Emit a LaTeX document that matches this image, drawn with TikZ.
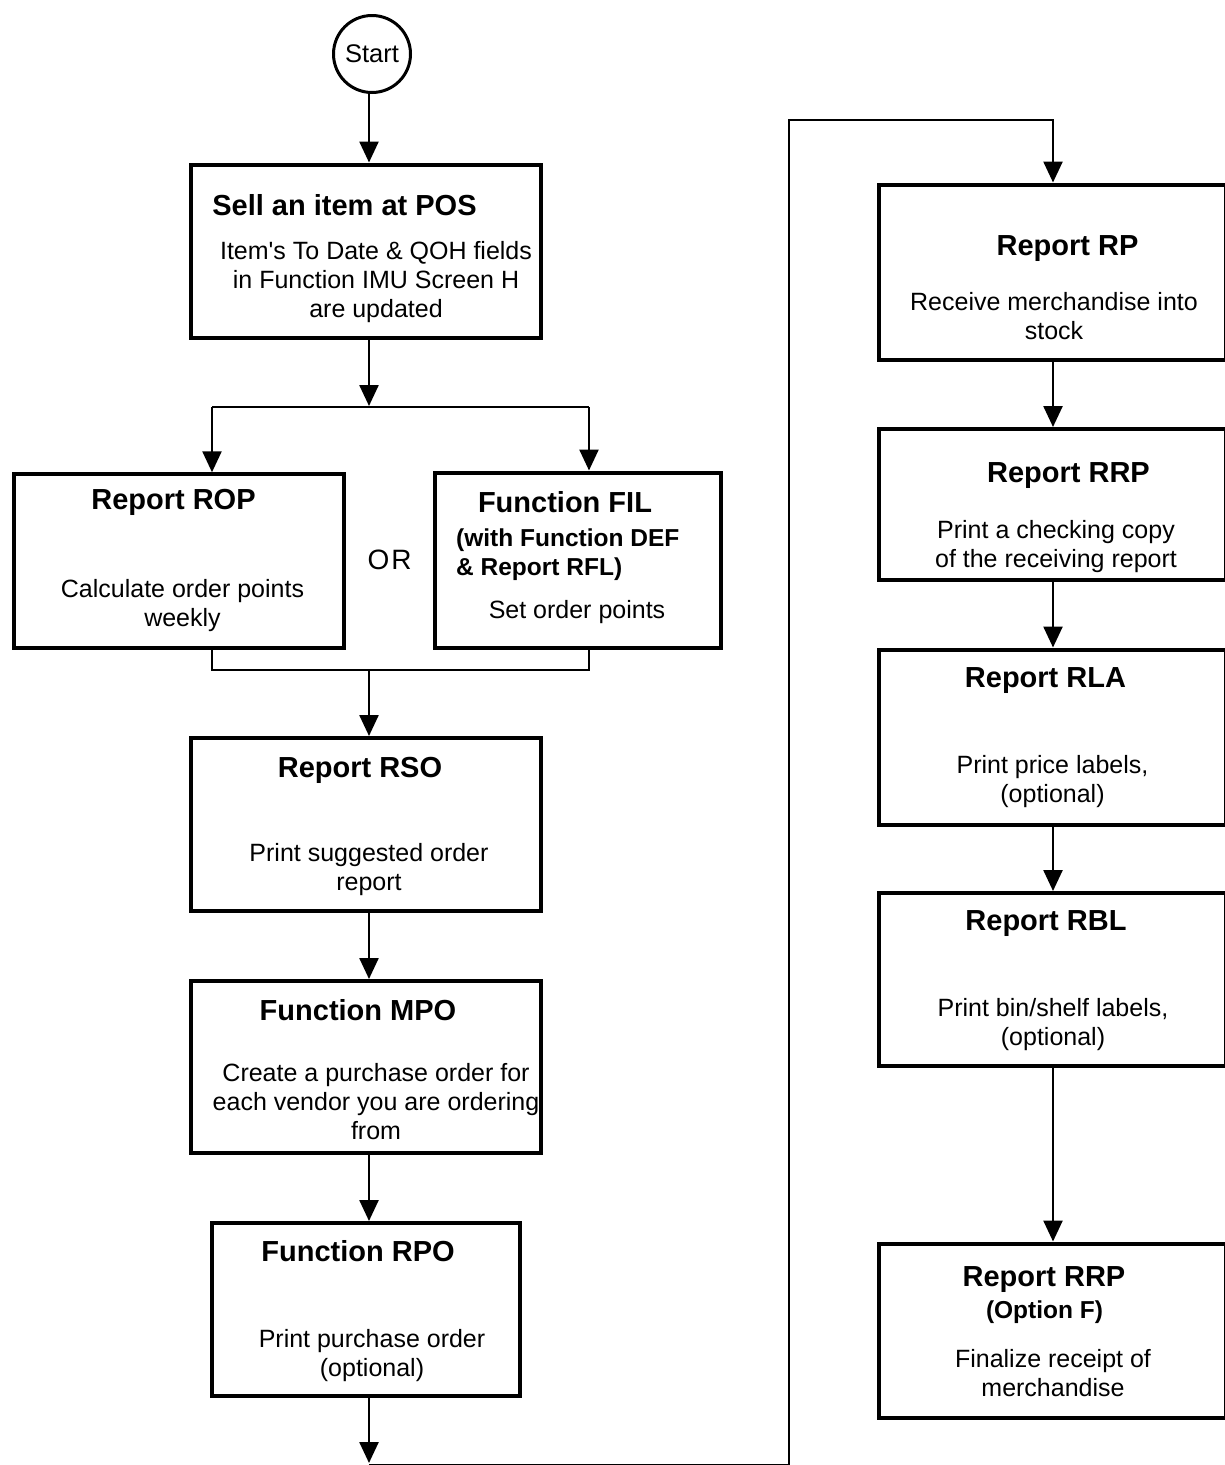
\documentclass[tikz,border=0pt]{standalone}
\usepackage{fontspec}
\setmainfont{Liberation Sans}[Ligatures=TeXOff]
\usetikzlibrary{arrows.meta}
\begin{document}
\begin{tikzpicture}[x=1pt,y=-1pt,
  box/.style={draw, line width=4pt, rectangle, inner sep=0pt, outer sep=2pt},
  arr/.style={line width=2.5pt, -{Triangle[width=19pt,length=21pt]}},
  link/.style={line width=2.5pt},
  ttl/.style={font=\fontsize{29}{31}\selectfont\bfseries, anchor=base, inner sep=0pt},
  sub/.style={font=\fontsize{24.5}{29.5}\selectfont\bfseries, anchor=base west, inner sep=0pt, align=left},
  body/.style={font=\fontsize{25}{29}\selectfont, anchor=base, inner sep=0pt, align=center},
]
\useasboundingbox (0,0) rectangle (1225,1465);

% start terminal
\node[circle, draw, line width=3pt, minimum size=77pt, inner sep=0pt,
      font=\fontsize{25.5}{25.5}\selectfont] (start) at (372,54) {Start};

% left column boxes
\node[box, minimum width=350pt,   minimum height=173pt] (pos)  at (365.5,251) {};
\node[box, minimum width=329.5pt, minimum height=173.5pt] (rop) at (179,561) {};
\node[box, minimum width=286pt,   minimum height=175pt] (fil)  at (577.5,560) {};
\node[box, minimum width=350pt,   minimum height=173pt] (rso)  at (366,824.5) {};
\node[box, minimum width=350pt,   minimum height=172pt] (mpo)  at (366,1067) {};
\node[box, minimum width=308pt,   minimum height=173pt] (rpo)  at (366,1309.5) {};

% right column boxes
\node[box, minimum width=347pt, minimum height=175pt]   (rp)   at (1052,272) {};
\node[box, minimum width=347pt, minimum height=150.5pt] (rrp)  at (1052,504.25) {};
\node[box, minimum width=347pt, minimum height=175pt]   (rla)  at (1052,737) {};
\node[box, minimum width=347pt, minimum height=173pt]   (rbl)  at (1052,979.5) {};
\node[box, minimum width=347pt, minimum height=174pt]   (rrpf) at (1052,1330.5) {};

% box texts (multi-line nodes sit on the baseline of their last line)
\node[ttl] (posT) at (344.5,215) {Sell an item at POS};
\begin{scope}
  \clip (192.5,166.5) rectangle (539,335.5);
  \node[body] (posB) at (376,317.5) {Item's To Date \& QOH fields\\in Function IMU Screen H\\are updated};
\end{scope}

\node[ttl]  (ropT) at (173.5,509) {Report ROP};
\node[body] (ropB) at (182.5,626) {Calculate order points\\weekly};

\node[font=\fontsize{28}{28}\selectfont, anchor=base, inner sep=0pt] (orT) at (389.5,569) {O\kern 2pt R};

\node[ttl]  (filT) at (565,512) {Function FIL};
\node[sub]  (filS) at (456,575.5) {(with Function DEF\\\& Report RFL)};
\node[body] (filB) at (577,618) {Set order points};

\node[ttl]  (rsoT) at (360,777) {Report RSO};
\node[body] (rsoB) at (369,890) {Print suggested order\\report};

\node[ttl]  (mpoT) at (358,1020) {Function MPO};
\begin{scope}
  \clip (193,983) rectangle (538.5,1151);
  \node[body] (mpoB) at (376,1139) {Create a purchase order for\\each vendor you are ordering\\from};
\end{scope}

\node[ttl]  (rpoT) at (358,1261) {Function RPO};
\node[body] (rpoB) at (372,1376) {Print purchase order\\(optional)};

\node[ttl]  (rpT)  at (1067.5,255) {Report RP};
\node[body] (rpB)  at (1054,339) {Receive merchandise into\\stock};

\node[ttl]  (rrpT) at (1068.5,482) {Report RRP};
\node[body] (rrpB) at (1056,567) {Print a checking copy\\of the receiving report};

\node[ttl]  (rlaT) at (1045.5,687) {Report RLA};
\node[body] (rlaB) at (1052.5,802) {Print price labels,\\(optional)};

\node[ttl]  (rblT) at (1046,930) {Report RBL};
\node[body] (rblB) at (1053,1045) {Print bin/shelf labels,\\(optional)};

\node[ttl]  (rrpfT) at (1044,1286) {Report RRP};
\node[font=\fontsize{24.5}{24.5}\selectfont\bfseries, anchor=base, inner sep=0pt] (rrpfS) at (1044.5,1318) {(Option F)};
\node[body] (rrpfB) at (1053,1396) {Finalize receipt of\\merchandise};

% routing points
\coordinate (spine)  at (369,0);
\coordinate (rspine) at (1053,0);
\coordinate (split)  at (369,406);
\coordinate (ropin)  at (212,407);
\coordinate (filin)  at (589,407);
\coordinate (join)   at (369,670);
\coordinate (drop)   at (369,1463);
\coordinate (low)    at (369,1465);
\coordinate (turnA)  at (789,1465);
\coordinate (turnB)  at (789,120);
\coordinate (turnC)  at (1053,120);

% left column connectors
\draw[arr] (spine |- start.south) -- (spine |- pos.north);
\draw[arr] (spine |- pos.south) -- (split);
\draw[link] (ropin) -- (filin);
\draw[arr] (ropin) -- (ropin |- rop.north);
\draw[arr] (filin) -- (filin |- fil.north);
\draw[link] (ropin |- rop.south) -- (ropin |- join) -- (filin |- join) -- (filin |- fil.south);
\draw[arr] (join) -- (join |- rso.north);
\draw[arr] (spine |- rso.south) -- (spine |- mpo.north);
\draw[arr] (spine |- mpo.south) -- (spine |- rpo.north);
\draw[arr] (spine |- rpo.south) -- (drop);

% crossover to the right column
\draw[arr] (low) -- (turnA) -- (turnB) -- (turnC) -- (turnC |- rp.north);

% right column connectors
\draw[arr] (rspine |- rp.south)  -- (rspine |- rrp.north);
\draw[arr] (rspine |- rrp.south) -- (rspine |- rla.north);
\draw[arr] (rspine |- rla.south) -- (rspine |- rbl.north);
\draw[arr] (rspine |- rbl.south) -- (rspine |- rrpf.north);
\end{tikzpicture}
\end{document}
